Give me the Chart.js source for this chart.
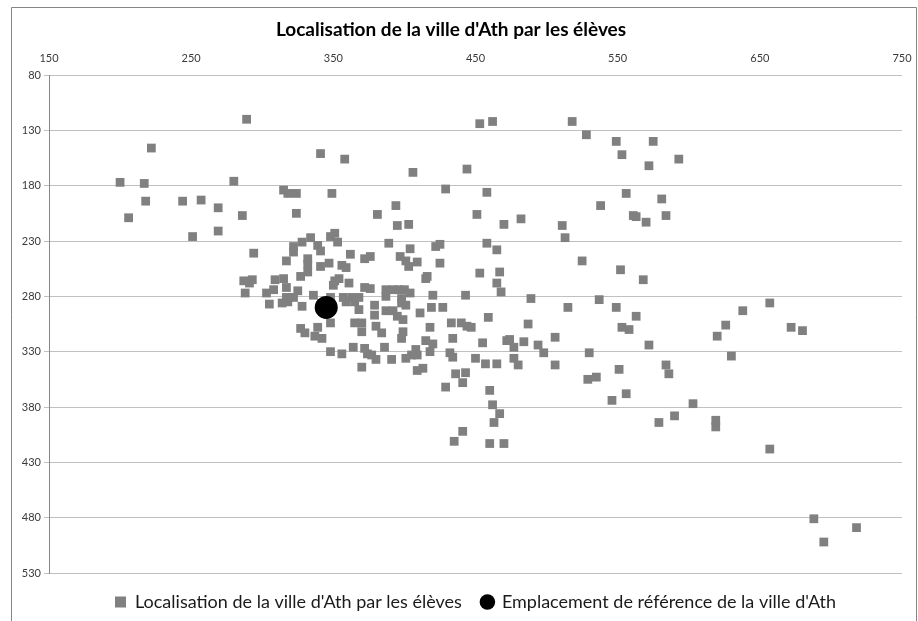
<!DOCTYPE html>
<html lang="fr">
<head>
<meta charset="utf-8">
<title>Localisation de la ville d'Ath</title>
<script src="https://cdn.jsdelivr.net/npm/chart.js@4.4.1/dist/chart.umd.min.js"></script>
<style>
  html, body { margin: 0; padding: 0; background: #fff; }
  #cadre { width: 918px; height: 621px; }
</style>
</head>
<body>
<div id="cadre"><canvas id="carteAth" width="918" height="621"></canvas></div>
<script>
// Textes du graphique
const titre = "Localisation de la ville d'Ath par les élèves";
const nomEleves = "Localisation de la ville d'Ath par les élèves";
const nomReference = "Emplacement de référence de la ville d'Ath";

// Graduations des axes (x en haut, y inversé)
const ticksX = [150, 250, 350, 450, 550, 650, 750];
const ticksY = [80, 130, 180, 230, 280, 330, 380, 430, 480, 530];

// Positions données par les élèves
const elevesX = [
  289, 222, 200, 217, 280, 218, 244, 257, 269, 206, 286, 269, 251, 294, 287, 293, 291, 288,
  341, 358, 406, 444, 453, 462, 315, 318, 324, 349, 429, 324, 381, 394, 395, 403, 451,
  518, 528, 549, 575, 553, 572, 593, 458, 556, 581, 538, 470, 482, 561, 563, 570, 584, 511, 513,
  458, 465, 525, 552, 568, 453, 467, 465, 468, 489, 537,
  351, 348, 353, 334, 328, 322, 322, 339, 341, 362, 372, 317, 332, 332, 332, 341, 347, 356, 359,
  327, 309, 315, 317, 308, 303, 351, 354, 350, 361, 325, 336, 372, 357, 363, 368, 317, 322, 348,
  389, 376, 404, 422, 425, 397, 401, 409, 403, 425, 415, 416, 376, 387, 392, 396, 400, 404, 387,
  398, 420, 443,
  305, 314, 318, 328, 359, 365, 368, 348, 327, 330, 339, 337, 342, 365, 370, 370, 348, 356, 364,
  372, 374, 370,
  379, 379, 387, 392, 398, 401, 395, 399, 411, 419, 427, 380, 384, 399, 398, 418, 433, 440, 444,
  447, 415, 420, 418, 434, 386, 408, 405, 401, 409, 432, 434, 377, 380, 391, 413, 409, 450, 436, 443,
  429, 441, 460, 462, 467, 463, 441, 435, 460, 470, 529, 535, 551, 546, 556, 603, 590, 579, 688, 695,
  515, 549, 563, 459, 487, 553, 558, 506, 455, 472, 474, 477, 484, 494, 572, 498, 530, 457, 465,
  477, 480, 506, 584, 586,
  657, 672, 680, 638, 620, 626, 630, 619, 619, 657, 718
];
const elevesY = [
  120, 146, 177, 178, 176, 194, 194, 193, 200, 209, 207, 221, 226, 241, 266, 265, 268, 277,
  151, 156, 168, 165, 124, 122, 184, 187, 187, 187, 183, 205, 206, 198, 216, 215, 206,
  122, 134, 140, 140, 152, 162, 156, 186, 187, 192, 198, 215, 210, 207, 208, 213, 207, 216, 227,
  232, 238, 248, 256, 265, 259, 258, 268, 276, 282, 283,
  223, 226, 231, 227, 231, 235, 240, 234, 239, 242, 246, 248, 246, 251, 258, 253, 250, 252, 254,
  262, 265, 264, 272, 274, 277, 266, 264, 270, 268, 275, 279, 272, 281, 281, 281, 281, 281, 281,
  232, 244, 237, 235, 233, 244, 248, 249, 253, 250, 264, 262, 273, 274, 274, 274, 274, 277, 280,
  282, 279, 279,
  287, 286, 285, 289, 285, 285, 292, 304, 309, 313, 308, 316, 318, 304, 304, 312, 330, 332, 326,
  327, 332, 344,
  288, 297, 293, 293, 286, 288, 298, 301, 295, 290, 290, 307, 313, 312, 318, 308, 304, 304, 307,
  308, 320, 323, 330, 318, 326, 328, 333, 336, 333, 331, 335, 333, 337, 337, 345, 347, 336, 350, 349,
  362, 358, 365, 378, 386, 394, 402, 411, 413, 413, 355, 353, 346, 374, 368, 377, 388, 394, 481, 502,
  290, 290, 298, 299, 305, 308, 310, 317, 322, 320, 319, 326, 321, 324, 324, 331, 331, 341, 341,
  336, 342, 342, 342, 350,
  286, 308, 311, 293, 316, 306, 334, 392, 398, 418, 489
];

// Emplacement de référence
const refX = [345];
const refY = [290];

const versPoints = (xs, ys) => xs.map((x, i) => ({ x: x, y: ys[i] }));

// Cadre gris autour de la zone du graphique
const cadrePlugin = {
  id: 'cadreGraphique',
  beforeDraw(chart) {
    const c = chart.ctx;
    c.save();
    c.fillStyle = '#ffffff';
    c.fillRect(0, 0, chart.width, chart.height);
    c.strokeStyle = '#868686';
    c.lineWidth = 1;
    c.beginPath();
    c.moveTo(11.5, chart.height);
    c.lineTo(11.5, 7.5);
    c.lineTo(916.5, 7.5);
    c.lineTo(916.5, chart.height);
    c.stroke();
    c.restore();
  }
};

Chart.defaults.font.family = 'Lato, "Open Sans", sans-serif';
Chart.defaults.color = '#3a3a3a';

const ctx = document.getElementById('carteAth').getContext('2d');
new Chart(ctx, {
  type: 'scatter',
  data: {
    datasets: [
      {
        label: nomEleves,
        data: versPoints(elevesX, elevesY),
        pointStyle: 'rect',
        pointRadius: 6.2,
        pointHoverRadius: 6.2,
        backgroundColor: '#808080',
        borderColor: '#808080',
        borderWidth: 0,
        order: 1
      },
      {
        label: nomReference,
        data: versPoints(refX, refY),
        pointStyle: 'circle',
        pointRadius: 11.5,
        pointHoverRadius: 11.5,
        backgroundColor: '#000000',
        borderColor: '#000000',
        borderWidth: 0,
        order: 0
      }
    ]
  },
  options: {
    responsive: false,
    animation: false,
    devicePixelRatio: 1,
    layout: { padding: { left: 0, right: 16, top: 0, bottom: 0 } },
    plugins: {
      title: {
        display: true,
        text: titre,
        color: '#000000',
        font: { size: 19, weight: 'bold' },
        padding: { top: 18, bottom: 4 }
      },
      legend: {
        position: 'bottom',
        fullSize: false,   // centrée sous la zone de tracé
        labels: {
          usePointStyle: true,
          boxWidth: 11,
          boxHeight: 11,
          padding: 20,
          color: '#1a1a1a',
          font: { size: 18 },
          sort: (a, b) => a.datasetIndex - b.datasetIndex
        }
      },
      tooltip: { enabled: false }
    },
    scales: {
      x: {
        type: 'linear',
        position: 'top',
        min: ticksX[0],
        max: ticksX[ticksX.length - 1],
        afterBuildTicks: (scale) => { scale.ticks = ticksX.map(v => ({ value: v })); },
        afterFit: (scale) => { scale.height = 30.2; },
        ticks: { font: { size: 11 }, padding: 2, maxRotation: 0 },
        grid: { display: false, drawTicks: true, tickLength: 8 },
        border: { display: false }
      },
      y: {
        type: 'linear',
        reverse: true,
        min: ticksY[0],
        max: ticksY[ticksY.length - 1],
        afterBuildTicks: (scale) => { scale.ticks = ticksY.map(v => ({ value: v })); },
        afterFit: (scale) => { scale.width = 49; },
        ticks: { font: { size: 11 }, padding: 3 },
        grid: { color: '#c0c0c0', tickLength: 5 },
        border: { color: '#868686' }
      }
    }
  },
  plugins: [cadrePlugin]
});
</script>
</body>
</html>
